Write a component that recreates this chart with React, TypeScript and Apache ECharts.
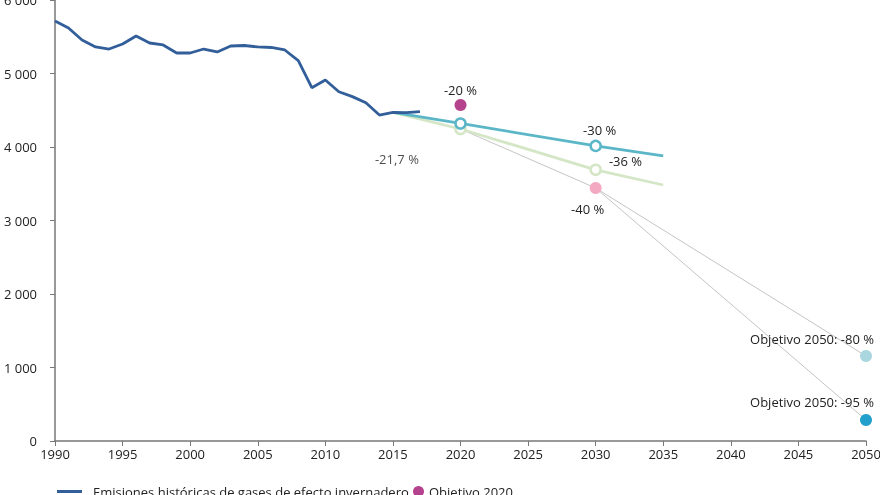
import React, { useEffect, useRef } from "react";
import * as echarts from "echarts";

const historicalYears = [1990, 1991, 1992, 1993, 1994, 1995, 1996, 1997, 1998, 1999, 2000, 2001, 2002, 2003, 2004, 2005, 2006, 2007, 2008, 2009, 2010, 2011, 2012, 2013, 2014, 2015, 2016, 2017];
const historicalValues = [5714, 5619, 5456, 5361, 5333, 5401, 5510, 5415, 5388, 5279, 5279, 5333, 5293, 5374, 5381, 5361, 5354, 5320, 5175, 4807, 4912, 4752, 4685, 4603, 4435, 4471, 4467, 4480];

const projYears = [2015, 2020, 2030, 2035];
const projWithMeasures = [4471, 4320, 4015, 3878];
const projAdditional = [4471, 4245, 3690, 3483];

const point2017Label = [2015, 4471];
const target2020 = [2020, 4571];
const target2030 = [2030, 3442];
const target2050a = [2050, 1156];
const target2050b = [2050, 286];

const xTicks = [1990, 2050, 5];
const yTicks = [0, 6000, 1000];

const FONT = "Open Sans";

export default function App() {
  const ref = useRef<HTMLDivElement>(null);
  useEffect(() => {
    const chart = echarts.init(ref.current!, null, { renderer: "svg" });
    const lbl = (extra: any) => ({ show: true, fontSize: 13, color: "#222", fontFamily: FONT, ...extra });
    const hollow = (color: string) => ({
      symbol: "circle",
      symbolSize: 10,
      itemStyle: { color: "#ffffff", borderColor: color, borderWidth: 2.5 },
    });
    const projData = (vals: number[], color: string, labels: any) =>
      projYears.map((y, i) => {
        const base: any = { value: [y, vals[i]] };
        if (y === 2020 || y === 2030) Object.assign(base, hollow(color));
        else base.symbol = "none";
        if (labels[i]) base.label = labels[i];
        return base;
      });

    chart.setOption({
      animation: false,
      textStyle: { fontFamily: FONT },
      grid: { left: 55, right: 14, top: 0, bottom: 54, outerBoundsMode: "none", containLabel: false },
      legend: [
        {
          left: 57,
          top: 485,
          padding: 0,
          itemWidth: 25,
          itemHeight: 11,
          textStyle: { fontFamily: FONT, fontSize: 13, color: "#222", padding: [0, 0, 0, 6] },
          data: [{ name: "Emisiones históricas de gases de efecto invernadero", icon: "path://M0,4 L25,4 L25,7 L0,7 Z" }],
        },
        {
          left: 413,
          top: 485,
          padding: 0,
          itemWidth: 11,
          itemHeight: 11,
          textStyle: { fontFamily: FONT, fontSize: 13, color: "#222" },
          data: [{ name: "Objetivo 2020", icon: "circle" }],
        },
      ],
      xAxis: {
        type: "value",
        min: xTicks[0],
        max: xTicks[1],
        interval: xTicks[2],
        axisLine: { lineStyle: { color: "#777", width: 1.5 } },
        axisTick: { show: true, length: 5, lineStyle: { color: "#777" } },
        axisLabel: { fontFamily: FONT, fontSize: 13, color: "#222", margin: 6, formatter: (v: number) => String(v) },
        splitLine: { show: false },
      },
      yAxis: {
        type: "value",
        min: yTicks[0],
        max: yTicks[1],
        interval: yTicks[2],
        axisLine: { show: true, lineStyle: { color: "#777", width: 1.5 } },
        axisTick: { show: true, length: 5, lineStyle: { color: "#777" } },
        axisLabel: {
          fontFamily: FONT,
          fontSize: 13,
          color: "#222",
          margin: 18,
          formatter: (v: number) => (v >= 1000 ? `${Math.floor(v / 1000)} ${String(v % 1000).padStart(3, "0")}` : String(v)),
        },
        splitLine: { show: false },
      },
      series: [
        {
          name: "gray1",
          type: "line",
          data: [[2020, projAdditional[1]], target2030],
          symbol: "none",
          lineStyle: { color: "#c4c4c4", width: 1 },
          z: 1,
        },
        {
          name: "gray2",
          type: "line",
          data: [target2030, target2050a],
          symbol: "none",
          lineStyle: { color: "#c4c4c4", width: 1 },
          z: 1,
        },
        {
          name: "gray3",
          type: "line",
          data: [target2030, target2050b],
          symbol: "none",
          lineStyle: { color: "#c4c4c4", width: 1 },
          z: 1,
        },
        {
          name: "Proyección adicional",
          type: "line",
          data: projData(projAdditional, "#d4e6c6", [
            null,
            null,
            lbl({ position: "right", offset: [2, -9], formatter: "-36 %" }),
            null,
          ]),
          lineStyle: { color: "#d4e6c6", width: 2.8 },
          itemStyle: { color: "#d4e6c6" },
          z: 2,
        },
        {
          name: "Proyección",
          type: "line",
          data: projData(projWithMeasures, "#5bb6c8", [
            null,
            null,
            lbl({ position: "top", distance: 3, offset: [4, 0], formatter: "-30 %" }),
            null,
          ]),
          lineStyle: { color: "#5bb6c8", width: 2.8 },
          itemStyle: { color: "#5bb6c8" },
          z: 3,
        },
        {
          name: "Emisiones históricas de gases de efecto invernadero",
          type: "line",
          data: historicalYears.map((y, i) => [y, historicalValues[i]]),
          symbol: "none",
          lineStyle: { color: "#325e9a", width: 2.8 },
          itemStyle: { color: "#325e9a" },
          z: 4,
        },
        {
          name: "label2017",
          type: "scatter",
          data: [point2017Label],
          symbolSize: 2,
          itemStyle: { color: "rgba(0,0,0,0)" },
          label: lbl({ position: "bottom", distance: 39, offset: [4, 0], formatter: "-21,7 %" }),
          z: 5,
        },
        {
          name: "Objetivo 2020",
          type: "scatter",
          data: [target2020],
          symbolSize: 12,
          itemStyle: { color: "#b5428d", opacity: 1 },
          label: lbl({ position: "top", distance: 3, formatter: "-20 %" }),
          z: 5,
        },
        {
          name: "Objetivo 2030",
          type: "scatter",
          data: [target2030],
          symbolSize: 12,
          itemStyle: { color: "#f3a9c2", opacity: 1 },
          label: lbl({ position: "bottom", distance: 8, offset: [-8, 0], formatter: "-40 %" }),
          z: 5,
        },
        {
          name: "Objetivo 2050 a",
          type: "scatter",
          data: [target2050a],
          symbolSize: 12,
          itemStyle: { color: "#a9d6df", opacity: 1 },
          label: lbl({ position: "top", distance: 5, offset: [-54, 0], formatter: "Objetivo 2050: -80 %" }),
          z: 5,
        },
        {
          name: "Objetivo 2050 b",
          type: "scatter",
          data: [target2050b],
          symbolSize: 12,
          itemStyle: { color: "#22a0cb", opacity: 1 },
          label: lbl({ position: "top", distance: 5, offset: [-54, 0], formatter: "Objetivo 2050: -95 %" }),
          z: 5,
        },
      ],
    });
    return () => chart.dispose();
  }, []);
  return <div ref={ref} style={{ width: 880, height: 495, position: "fixed", left: 0, top: 0 }} />;
}
